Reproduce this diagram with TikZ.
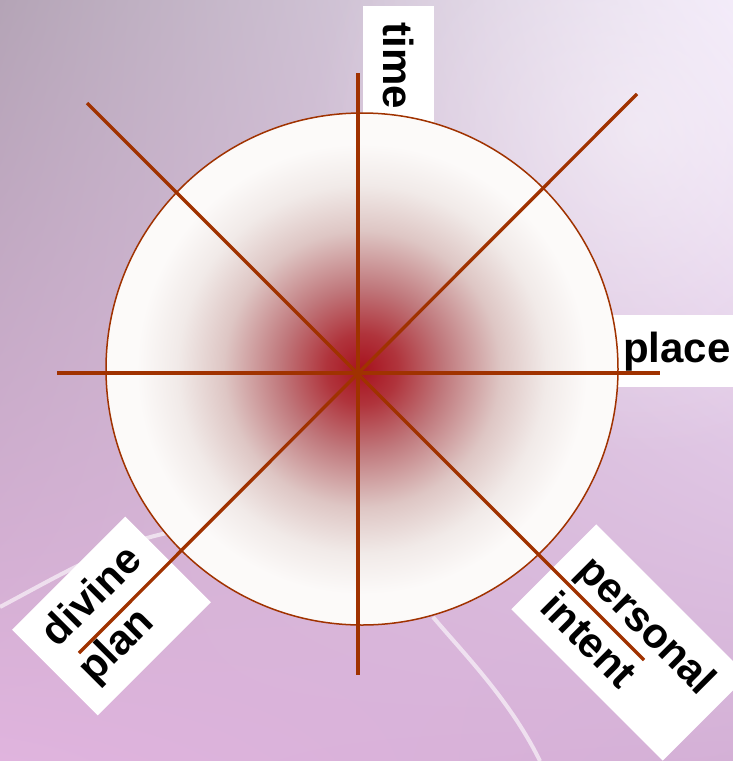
\documentclass[tikz,border=0pt]{standalone}
\usepackage{fontspec}
\setmainfont{Liberation Sans}
\usepackage{xcolor}
\usetikzlibrary{shadings,fadings}

\definecolor{spokebrown}{RGB}{160,50,0}
\definecolor{hubred}{RGB}{168,18,30}
\definecolor{hubdeep}{RGB}{176,52,60}
\definecolor{hubmid}{RGB}{192,120,124}
\definecolor{hubpale}{RGB}{222,198,196}
\definecolor{hubmist}{RGB}{241,234,232}
\definecolor{hubwhite}{RGB}{252,250,249}
\definecolor{bgtl}{RGB}{180,164,182}
\definecolor{bgtr}{RGB}{240,230,248}
\definecolor{bgbl}{RGB}{224,180,222}
\definecolor{bgbr}{RGB}{212,176,214}
\pgfdeclareradialshading{hubglow}{\pgfpoint{0bp}{0bp}}{color(0bp)=(hubred); color(3.5bp)=(hubdeep); color(8bp)=(hubmid); color(13.5bp)=(hubpale); color(18bp)=(hubmist); color(22bp)=(hubwhite); color(50bp)=(hubwhite)}
\tikzfading[name=skyfade, inner color=transparent!0, outer color=transparent!100]

\begin{document}
\begin{tikzpicture}[x=1pt, y=-1pt,
  spoke/.style={draw=spokebrown, line width=3.3pt},
  wheel/.style={circle, draw=spokebrown, line width=1.5pt, shading=hubglow, minimum size=512pt, inner sep=0pt},
  tag/.style={fill=white, inner sep=0pt, align=left, font=\fontsize{42}{52}\selectfont\bfseries},
  streak/.style={draw=white, opacity=.6, line width=4pt}]
  \clip (0,0) rectangle (733,761);
  \shade[upper left=bgtl, upper right=bgtr, lower left=bgbl, lower right=bgbr] (0,0) rectangle (733,761);
  \fill[white, opacity=.45, path fading=skyfade] (640,130) circle[radius=330];
  \draw[streak] (0,607) .. controls (60,575) and (110,545) .. (167,533);
  \draw[streak] (433,617) .. controls (465,655) and (510,700) .. (540,761);

  % labels sit under the wheel
  \node[tag, rotate=-90, minimum width=120pt, minimum height=71pt] (time) at (398.5,66) {time};
  \node[tag, anchor=text, inner xsep=20pt, minimum height=72pt] (place) at (623,362) {place};
  \node[tag, rotate=45, minimum width=160pt, minimum height=121pt] (divine) at (111.5,616) {divine\\plan};
  \node[tag, rotate=-45, minimum width=214pt, minimum height=120pt] (personal) at (629.5,642.5) {personal\\intent};

  \node[wheel] (hubdisc) at (362,369) {};

  \coordinate (hub) at (358,373);
  \coordinate (n)  at (358,73);
  \coordinate (s)  at (358,675);
  \coordinate (w)  at (57,373);
  \coordinate (e)  at (660,373);
  \coordinate (nw) at (87,103);
  \coordinate (se) at (644,660);
  \coordinate (ne) at (637,94);
  \coordinate (sw) at (79,653);
  \foreach \a/\b in {n/s, w/e, nw/se, ne/sw}
    \draw[spoke] (\a) -- (\b);
\end{tikzpicture}
\end{document}
